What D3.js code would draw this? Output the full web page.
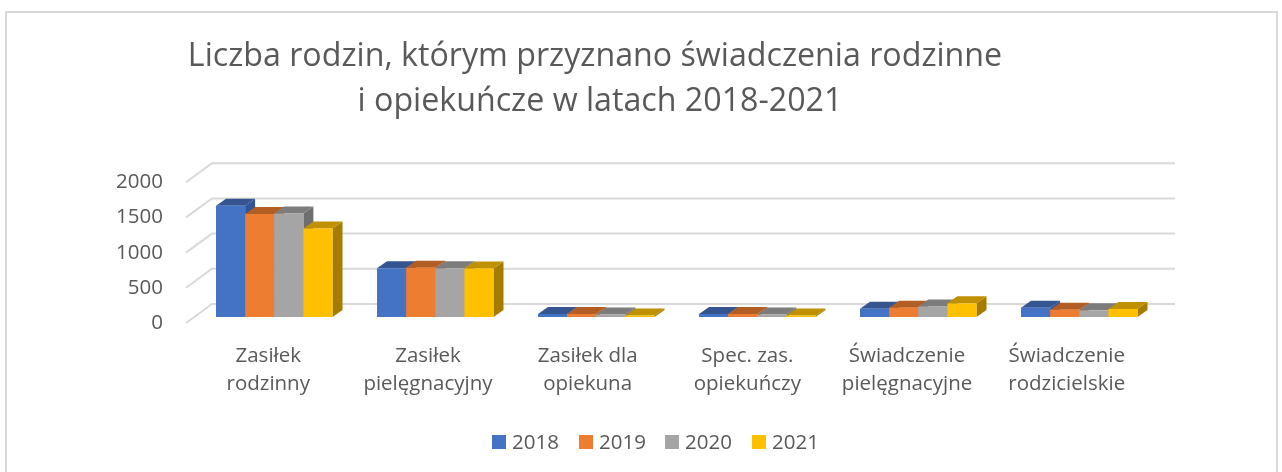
<!DOCTYPE html>
<html><head><meta charset="utf-8">
<script src="https://cdnjs.cloudflare.com/ajax/libs/d3/7.8.5/d3.min.js"></script>
<style>html,body{margin:0;padding:0;background:#fff;overflow:hidden}text{font-family:"Open Sans",sans-serif;fill:#595959}svg{filter:blur(.35px)}</style>
</head><body><svg id="c" width="1282" height="472"></svg>
<script>
const categories=[["Zasiłek","rodzinny"],["Zasiłek","pielęgnacyjny"],["Zasiłek dla","opiekuna"],["Spec. zas.","opiekuńczy"],["Świadczenie","pielęgnacyjne"],["Świadczenie","rodzicielskie"]];
const years=["2018","2019","2020","2021"];
const v2018=[1580,692,43,43,118,133];
const v2019=[1463,700,43,43,133,104];
const v2020=[1470,692,35,35,150,95];
const v2021=[1258,690,22,22,194,114];
const series=[v2018,v2019,v2020,v2021];
const yTicks=[0,500,1000,1500,2000];
const colors=["#4472C4","#ED7D31","#A5A5A5","#FFC000"];
const topColors=["#34558f","#b25d24","#7c7c7c","#bf9000"];
const sideColors=["#2f5597","#ae5a21","#6f6f6f","#a67c00"];
const title=["Liczba rodzin, którym przyznano świadczenia rodzinne","i opiekuńcze w latach 2018-2021"];

const svg=d3.select("#c");
svg.append("rect").attr("x",6).attr("y",12).attr("width",1271).attr("height",470).attr("fill","#fff").attr("stroke","#d9d9d9").attr("stroke-width",2);

const baseY=317,dx=10,dy=7;
const y=d3.scaleLinear().domain([0,2000]).range([baseY,baseY-140.8]);
const x0=d3.scaleBand().domain(d3.range(categories.length)).range([193.75,1159.75]);
const inner=d3.scaleBand().domain(d3.range(4)).range([0,116.5]);
const offs=i=>x0(i)+(x0.bandwidth()-116.5)/2;

const gridBack=[212,1175], gridFront=186;
const g=svg.append("g");
yTicks.forEach(t=>{
  const yb=y(t)-13;
  g.append("path").attr("fill","none").attr("stroke","#d9d9d9").attr("stroke-width",2)
   .attr("d",`M${gridFront},${y(t)+6}L${gridBack[0]},${yb}H${gridBack[1]}`);
  svg.append("text").attr("x",163).attr("y",y(t)+12).attr("text-anchor","end").attr("font-size",20.5).text(d3.format("d")(t));
});
categories.forEach((c,i)=>{
  series.forEach((s,k)=>{
    const xl=offs(i)+inner(k),w=inner.bandwidth(),yt=y(s[i]);
    svg.append("path").attr("fill",sideColors[k]).attr("d",`M${xl+w},${baseY}l${dx},${-dy}V${yt-dy}L${xl+w},${yt}Z`);
    svg.append("path").attr("fill",topColors[k]).attr("d",`M${xl},${yt}l${dx},${-dy}h${w}l${-dx},${dy}Z`);
  });
  series.forEach((s,k)=>{
    const xl=offs(i)+inner(k),w=inner.bandwidth(),yt=y(s[i]);
    svg.append("rect").attr("x",xl).attr("y",yt).attr("width",w).attr("height",baseY-yt).attr("fill",colors[k]);
  });
  const cx=offs(i)+116.5/2-(6+i*1.3);
  c.forEach((l,j)=>svg.append("text").attr("x",cx).attr("y",362+j*28).attr("text-anchor","middle").attr("font-size",20.5).text(l));
});
title.forEach((t,j)=>svg.append("text").attr("x",j?600:595).attr("y",66+j*45).attr("text-anchor","middle").attr("font-size",32.2).text(t));
const lx=[492,579,665,752];
years.forEach((yr,k)=>{
  svg.append("rect").attr("x",lx[k]).attr("y",435).attr("width",14).attr("height",14).attr("fill",colors[k]);
  svg.append("text").attr("x",lx[k]+20).attr("y",449).attr("font-size",20.5).text(yr);
});
</script></body></html>
